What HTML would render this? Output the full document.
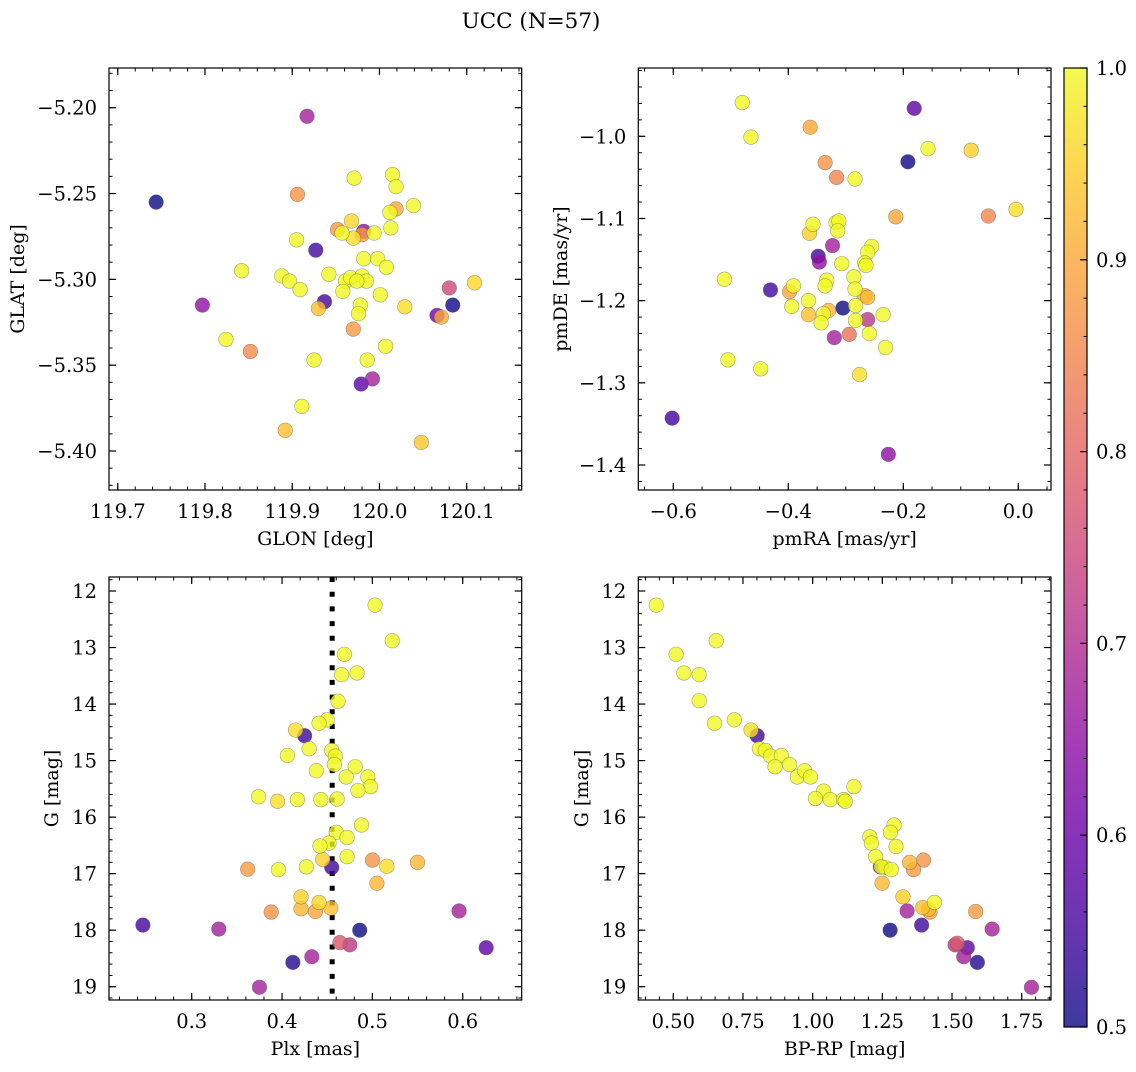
<!DOCTYPE html>
<html><head><meta charset="utf-8"><style>
html,body{margin:0;padding:0;background:#fff;}
svg text{font-family:"DejaVu Serif","Liberation Serif",serif;fill:#000;}
</style></head><body>
<svg id="fig" width="1136" height="1067" xmlns="http://www.w3.org/2000/svg">
<defs>
<linearGradient id="plasma" x1="0" y1="1" x2="0" y2="0">
<stop offset="0" stop-color="#0d0887"/><stop offset="0.1" stop-color="#41049d"/><stop offset="0.2" stop-color="#6a00a8"/><stop offset="0.3" stop-color="#8f0da4"/><stop offset="0.4" stop-color="#b12a90"/><stop offset="0.5" stop-color="#cc4778"/><stop offset="0.6" stop-color="#e16462"/><stop offset="0.7" stop-color="#f2844b"/><stop offset="0.8" stop-color="#fca636"/><stop offset="0.9" stop-color="#fcce25"/><stop offset="1" stop-color="#f0f921"/>
</linearGradient>
</defs>
<text x="531" y="28" font-size="21.5" text-anchor="middle">UCC (N=57)</text>
</svg>
<script>
// Panel 1: GLON vs GLAT
const glon=[119.917,119.744,119.906,119.971,120.015,120.019,120.039,120.012,120.019,120.013,119.968,119.952,119.957,119.970,119.982,119.980,119.994,119.905,119.927,119.982,119.998,120.008,119.842,119.888,119.897,119.909,119.942,119.961,119.967,119.980,119.985,119.974,119.958,120.001,120.109,120.080,119.797,119.937,119.930,119.978,119.976,120.029,120.084,120.066,120.071,119.970,119.824,119.852,120.007,119.925,119.986,119.992,119.979,119.911,119.892,120.048];
const glat=[-5.205,-5.255,-5.2505,-5.241,-5.239,-5.246,-5.257,-5.261,-5.259,-5.270,-5.266,-5.271,-5.273,-5.276,-5.272,-5.274,-5.273,-5.277,-5.283,-5.288,-5.288,-5.293,-5.295,-5.298,-5.301,-5.306,-5.297,-5.301,-5.299,-5.298,-5.301,-5.301,-5.307,-5.309,-5.302,-5.305,-5.315,-5.313,-5.317,-5.315,-5.320,-5.316,-5.315,-5.321,-5.322,-5.329,-5.335,-5.342,-5.339,-5.347,-5.347,-5.358,-5.361,-5.374,-5.388,-5.395];
const prob1=[0.68,0.5,0.87,1,1,1,1,1,0.9,1,0.96,0.88,1,0.97,0.65,0.88,1,1,0.55,1,1,1,1,1,1,1,1,1,1,1,1,1,1,1,0.96,0.75,0.65,0.55,0.93,1,1,0.97,0.5,0.6,0.9,0.88,1,0.86,1,1,1,0.68,0.58,1,0.93,0.94];
// Panel 2: pmRA vs pmDE
const pmra=[-0.480,-0.465,-0.362,-0.181,-0.192,-0.157,-0.082,-0.336,-0.316,-0.284,-0.213,-0.052,-0.004,-0.357,-0.363,-0.317,-0.312,-0.314,-0.323,-0.348,-0.346,-0.255,-0.262,-0.267,-0.265,-0.307,-0.511,-0.431,-0.398,-0.391,-0.333,-0.336,-0.286,-0.284,-0.267,-0.262,-0.365,-0.394,-0.305,-0.283,-0.330,-0.365,-0.339,-0.343,-0.283,-0.262,-0.235,-0.320,-0.294,-0.259,-0.231,-0.505,-0.448,-0.276,-0.602,-0.226];
const pmde=[-0.959,-1.001,-0.989,-0.966,-1.031,-1.015,-1.017,-1.032,-1.050,-1.052,-1.098,-1.097,-1.089,-1.107,-1.118,-1.105,-1.103,-1.115,-1.133,-1.146,-1.153,-1.134,-1.141,-1.154,-1.157,-1.155,-1.174,-1.187,-1.189,-1.182,-1.175,-1.182,-1.171,-1.186,-1.194,-1.196,-1.200,-1.207,-1.209,-1.206,-1.212,-1.217,-1.216,-1.227,-1.224,-1.223,-1.217,-1.245,-1.241,-1.240,-1.257,-1.272,-1.283,-1.290,-1.343,-1.387];
const prob2=[1,1,0.9,0.58,0.5,1,0.95,0.87,0.85,1,0.9,0.85,0.97,1,0.95,1,1,1,0.68,0.55,0.65,1,1,1,1,1,1,0.55,0.9,1,1,1,1,1,0.92,0.92,1,1,0.5,1,0.92,0.93,1,1,1,0.72,1,0.68,0.82,1,1,1,1,0.97,0.55,0.65];
// Panel 3: Plx vs G
const plx=[0.503,0.522,0.469,0.466,0.483,0.462,0.450,0.441,0.415,0.425,0.430,0.406,0.455,0.459,0.458,0.481,0.438,0.471,0.495,0.498,0.484,0.374,0.395,0.417,0.443,0.461,0.488,0.460,0.472,0.452,0.442,0.472,0.445,0.500,0.516,0.550,0.362,0.396,0.427,0.455,0.505,0.421,0.441,0.421,0.437,0.454,0.388,0.596,0.246,0.330,0.486,0.464,0.475,0.626,0.433,0.412,0.375];
const gmag3=[12.25,12.88,13.12,13.48,13.45,13.95,14.28,14.34,14.46,14.56,14.79,14.91,14.82,14.92,15.07,15.11,15.18,15.29,15.29,15.46,15.53,15.64,15.72,15.69,15.69,15.68,16.14,16.27,16.36,16.46,16.51,16.70,16.75,16.76,16.87,16.80,16.92,16.93,16.88,16.89,17.17,17.41,17.51,17.62,17.67,17.61,17.68,17.66,17.91,17.98,18.00,18.22,18.26,18.31,18.47,18.57,19.01];
const prob3=[1,1,1,1,1,1,1,1,0.97,0.55,1,1,1,1,1,1,1,1,1,1,1,1,0.97,1,1,1,1,1,1,1,1,1,0.95,0.87,0.97,0.92,0.88,1,1,0.55,0.92,0.95,0.96,0.92,0.9,0.93,0.87,0.68,0.55,0.68,0.5,0.78,0.72,0.58,0.68,0.52,0.68];
const plxLine=[0.4555];
// Panel 4: BP-RP vs G
const bprp=[0.439,0.654,0.510,0.538,0.593,0.593,0.648,0.719,0.779,0.801,0.809,0.830,0.849,0.888,0.865,0.917,0.945,0.971,0.992,1.148,1.039,1.010,1.063,1.111,1.117,1.292,1.279,1.205,1.211,1.299,1.226,1.243,1.261,1.246,1.282,1.348,1.398,1.362,1.249,1.324,1.437,1.395,1.421,1.416,1.339,1.585,1.278,1.391,1.644,1.519,1.511,1.555,1.542,1.591,1.785];
const gmag4=[12.25,12.88,13.12,13.45,13.48,13.94,14.34,14.28,14.46,14.56,14.79,14.82,14.92,14.91,15.11,15.07,15.29,15.18,15.29,15.46,15.54,15.67,15.69,15.69,15.72,16.14,16.27,16.35,16.46,16.52,16.70,16.88,16.89,16.88,16.93,16.80,16.76,16.93,17.17,17.41,17.51,17.60,17.68,17.63,17.66,17.67,18.00,17.91,17.98,18.23,18.26,18.31,18.47,18.57,19.01];
const prob4=[1,1,1,1,1,1,1,1,0.97,0.55,1,1,1,1,1,1,1,1,1,1,1,1,1,1,1,1,1,1,1,1,1,0.55,1,1,1,0.92,0.87,0.88,0.92,0.95,1,0.93,0.9,0.92,0.68,0.88,0.5,0.55,0.68,0.78,0.72,0.58,0.68,0.52,0.68];
const cbTicks=[0.5,0.6,0.7,0.8,0.9,1.0];

const NS='http://www.w3.org/2000/svg';
const svg=document.getElementById('fig');
const TF=19.5, LF=19;
function mk(tag,attrs,parent){const e=document.createElementNS(NS,tag);for(const k in attrs)e.setAttribute(k,attrs[k]);(parent||svg).appendChild(e);return e;}
const stops=[[13,8,135],[65,4,157],[106,0,168],[143,13,164],[177,42,144],[204,71,120],[225,100,98],[242,132,75],[252,166,54],[252,206,37],[240,249,33]];
function plasma(c){let t=Math.max(0,Math.min(1,(c-0.5)/0.5))*10;let i=Math.min(9,Math.floor(t));let f=t-i;const a=stops[i],b=stops[i+1];return 'rgb('+a.map((v,k)=>Math.round(v+(b[k]-v)*f)).join(',')+')';}
function lin(d0,d1,p0,p1){return v=>p0+(v-d0)*(p1-p0)/(d1-d0);}

function panel(o){
  const g=mk('g',{});
  
  
  const sx=lin(o.xd[0],o.xd[1],o.xp[0],o.xp[1]);
  const sy=lin(o.yd[0],o.yd[1],o.yp[0],o.yp[1]);
  const L=o.box[0],T=o.box[1],R=o.box[2],B=o.box[3];
  if(o.vline){const ln=mk('line',{x1:sx(o.vline[0]),x2:sx(o.vline[0]),y1:T,y2:B,stroke:'#000','stroke-width':5,'stroke-dasharray':'5 9.7'},g);
    }
  const pg=mk('g',{},g);
  
  const idx=o.x.map((_,i)=>i).sort((a,b)=>o.c[a]-o.c[b]);
  idx.forEach(i=>{const p=mk('circle',{cx:sx(o.x[i]),cy:sy(o.y[i]),r:7.3,fill:plasma(o.c[i]),'fill-opacity':0.8,stroke:'rgba(80,80,80,0.5)','stroke-width':0.6},pg);
    });
  const fr=mk('rect',{x:L,y:T,width:R-L,height:B-T,fill:'none',stroke:'#000','stroke-width':1.2},g);
  
  const xa=mk('g',{},g);
  for(let v=o.xminor[0];v<=o.xminor[1]+1e-9;v+=o.xminor[2]){const px=sx(v);if(px<L-0.5||px>R+0.5)continue;
    mk('line',{x1:px,x2:px,y1:B,y2:B-3.5,stroke:'#000','stroke-width':1},xa);mk('line',{x1:px,x2:px,y1:T,y2:T+3.5,stroke:'#000','stroke-width':1},xa);}
  o.xt.forEach((v,i)=>{const px=sx(v);mk('line',{x1:px,x2:px,y1:B,y2:B-7,stroke:'#000','stroke-width':1.2},xa);mk('line',{x1:px,x2:px,y1:T,y2:T+7,stroke:'#000','stroke-width':1.2},xa);
    const t=mk('text',{x:px,y:B+28,'font-size':TF,'text-anchor':'middle'},xa);t.textContent=o.xl[i];});
  const ya=mk('g',{},g);
  for(let v=o.yminor[0];v<=o.yminor[1]+1e-9;v+=o.yminor[2]){const py=sy(v);if(py<T-0.5||py>B+0.5)continue;
    mk('line',{x1:L,x2:L+3.5,y1:py,y2:py,stroke:'#000','stroke-width':1},ya);mk('line',{x1:R,x2:R-3.5,y1:py,y2:py,stroke:'#000','stroke-width':1},ya);}
  o.yt.forEach((v,i)=>{const py=sy(v);mk('line',{x1:L,x2:L+7,y1:py,y2:py,stroke:'#000','stroke-width':1.2},ya);mk('line',{x1:R,x2:R-7,y1:py,y2:py,stroke:'#000','stroke-width':1.2},ya);
    const t=mk('text',{x:L-12,y:py+7,'font-size':TF,'text-anchor':'end'},ya);t.textContent=o.yl[i];});
  const xt=mk('text',{x:(L+R)/2,y:B+55,'font-size':LF,'text-anchor':'middle'},g);xt.textContent=o.xlab;
  
  const yt=mk('text',{x:0,y:0,'font-size':LF,'text-anchor':'middle',transform:'translate('+o.ylabx+','+((T+B)/2)+') rotate(-90)'},g);yt.textContent=o.ylab;
  
}
const M='\u2212';
panel({name:'panel-glon-glat',box:[109,68,521.7,490],xd:[119.8,120.1],xp:[205,466.7],yd:[-5.20,-5.40],yp:[107.7,451],
  x:glon,y:glat,c:prob1,xt:[119.7,119.8,119.9,120.0,120.1],xl:['119.7','119.8','119.9','120.0','120.1'],xminor:[119.68,120.18,0.02],
  yt:[-5.20,-5.25,-5.30,-5.35,-5.40],yl:[M+'5.20',M+'5.25',M+'5.30',M+'5.35',M+'5.40'],yminor:[-5.43,-5.17,0.01],xlab:'GLON [deg]',ylab:'GLAT [deg]',ylabx:24});
panel({name:'panel-pm',box:[638.3,68,1051,490],xd:[-0.6,0.0],xp:[673.3,1018.3],yd:[-1.0,-1.4],yp:[136.3,465],
  x:pmra,y:pmde,c:prob2,xt:[-0.6,-0.4,-0.2,0.0],xl:[M+'0.6',M+'0.4',M+'0.2','0.0'],xminor:[-0.7,0.1,0.05],
  yt:[-1.0,-1.1,-1.2,-1.3,-1.4],yl:[M+'1.0',M+'1.1',M+'1.2',M+'1.3',M+'1.4'],yminor:[-1.44,-0.9,0.02],xlab:'pmRA [mas/yr]',ylab:'pmDE [mas/yr]',ylabx:567});
panel({name:'panel-plx-g',box:[109,577,521.7,1000],xd:[0.3,0.6],xp:[191.7,462.7],yd:[12,19],yp:[591,986.7],
  x:plx,y:gmag3,c:prob3,xt:[0.3,0.4,0.5,0.6],xl:['0.3','0.4','0.5','0.6'],xminor:[0.2,0.7,0.02],vline:plxLine,
  yt:[12,13,14,15,16,17,18,19],yl:['12','13','14','15','16','17','18','19'],yminor:[11.6,19.4,0.2],xlab:'Plx [mas]',ylab:'G [mag]',ylabx:58});
panel({name:'panel-cmd',box:[638.3,577,1051,1000],xd:[0.5,1.75],xp:[673.3,1021.7],yd:[12,19],yp:[591,986.7],
  x:bprp,y:gmag4,c:prob4,xt:[0.5,0.75,1.0,1.25,1.5,1.75],xl:['0.50','0.75','1.00','1.25','1.50','1.75'],xminor:[0.35,1.9,0.05],
  yt:[12,13,14,15,16,17,18,19],yl:['12','13','14','15','16','17','18','19'],yminor:[11.6,19.4,0.2],xlab:'BP-RP [mag]',ylab:'G [mag]',ylabx:588});

const cb=mk('g',{});


const cL=1064,cR=1087,cT=68,cB=1027;
const cy=lin(0.5,1.0,cB,cT);
mk('rect',{x:cL,y:cT,width:cR-cL,height:cB-cT,fill:'url(#plasma)','fill-opacity':0.8},cb);
mk('rect',{x:cL,y:cT,width:cR-cL,height:cB-cT,fill:'none',stroke:'#000','stroke-width':1.2},cb);
for(let v=0.5;v<=1.0001;v+=0.02){mk('line',{x1:cR,x2:cR-3.5,y1:cy(v),y2:cy(v),stroke:'#000','stroke-width':1},cb);}
cbTicks.forEach(v=>{mk('line',{x1:cR,x2:cR-7,y1:cy(v),y2:cy(v),stroke:'#000','stroke-width':1.2},cb);
  const t=mk('text',{x:cR+9,y:cy(v)+7,'font-size':TF},cb);t.textContent=v.toFixed(1);
  
  });
</script>
</body></html>
